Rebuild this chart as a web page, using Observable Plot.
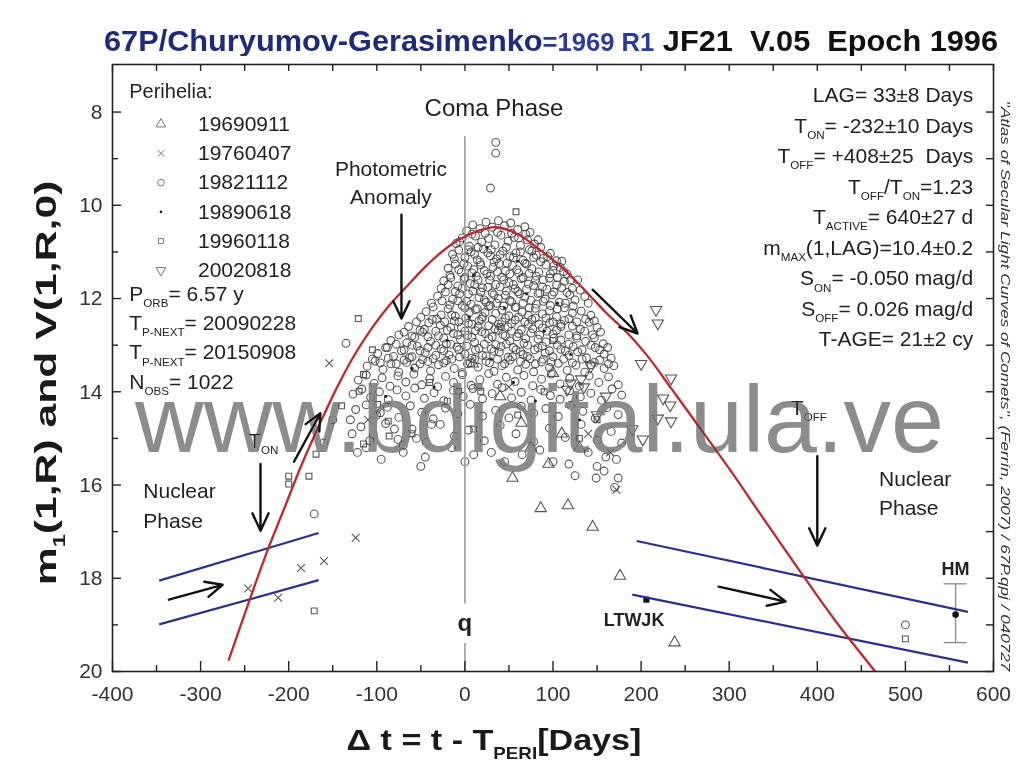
<!DOCTYPE html>
<html>
<head>
<meta charset="utf-8">
<script src="https://cdn.jsdelivr.net/npm/d3@7"></script>
<script src="https://cdn.jsdelivr.net/npm/@observablehq/plot@0.6"></script>
<style>
  html, body { margin: 0; padding: 0; background: #fff; }
  #wrap { position: relative; width: 1018px; height: 783px; overflow: hidden;
          font-family: "Liberation Sans", Arial, Helvetica, sans-serif; }
  #title { position: absolute; left: 104px; top: 26px; white-space: pre; font-weight: bold;
           font-size: 30px; line-height: 30px; transform-origin: 0 0; }
  #chart { position: absolute; left: 0; top: 56px; }
</style>
</head>
<body>
<div id="wrap">
  <div id="title"><span style="color:#1f2a78">67P/Churyumov-Gerasimenko</span><span style="color:#2b3a9e;font-size:25px">=1969 R1</span><span style="color:#111"> JF21  V.05  Epoch 1996</span></div>
  <div id="chart"></div>
</div>
<script>
// ---- axis ticks ----
const xTicks = [-400, -300, -200, -100, 0, 100, 200, 300, 400, 500, 600];
const xMinorTicks = [-350, -250, -150, -50, 50, 150, 250, 350, 450, 550];
const yTicks = [8, 10, 12, 14, 16, 18, 20];
const yMinorTicks = [9, 11, 13, 15, 17, 19];

// ---- perihelion passages (legend order) ----
const perihelia = ["19690911", "19760407", "19821112", "19890618", "19960118", "20020818"];

// ---- observations: [days from perihelion, reduced magnitude] ----
const obs1969 = [[86,16.5],[117,16.44],[145,16.9],[176,17.95],[238,19.38],[54,15.85],[64,14.67],[95,15.55],
  [9,13.4],[130,15.2],[110,14.9],[75,15.2],[40,14.1],[100,13.6]];
const obs1976 = [[-124,17.13],[-186,17.78],[-160,17.63],[-212,18.42],[-246,18.22],[-154,13.39],[172,16.1],
  [165,15.3],[-110,14.6],[140,14.9],[50,13.9]];
const obs1982 = [
  [35,8.65],[35,8.88],[29,9.63],[-135,12.96],[-171,16.62],[500,19.0],[-150,14.6],[-160,15.1],
  [2,10.55],[9,10.42],[17,10.5],[24,10.36],[31,10.47],[38,10.33],[45,10.44],[52,10.38],[60,10.52],[68,10.46],[74,10.58],
  [-10,10.82],[-3,10.7],[5,10.88],[12,10.66],[19,10.79],[27,10.71],[34,10.85],[41,10.64],[49,10.77],[56,10.69],[63,10.86],[71,10.74],[79,10.83],[86,10.9],
  [-6,10.78],[8,10.62],[15,10.9],[23,10.6],[30,10.95],[37,10.58],[47,10.9],[53,10.6],[61,10.7],[69,10.62],[76,10.98],[83,10.74],
  [-14,11.05],[-7,10.96],[0,11.12],[7,11.0],[14,11.17],[21,10.94],[29,11.08],[36,11.15],[43,10.98],[51,11.1],[58,11.02],[66,11.18],[73,10.95],[81,11.07],[89,11.14],[97,11.03],[104,11.19],
  [-12,11.15],[-1,11.25],[4,10.95],[11,11.05],[18,11.28],[26,11.02],[33,11.22],[40,11.06],[48,11.24],[55,11.12],[63,11.0],[70,11.26],[78,11.12],[86,11.21],[94,11.1],[101,11.3],[110,11.2],
  [-19,11.35],[-11,11.26],[-4,11.44],[3,11.3],[10,11.38],[17,11.22],[25,11.47],[32,11.33],[39,11.25],[46,11.41],[54,11.29],[61,11.45],[68,11.24],[76,11.36],[84,11.43],[92,11.28],[100,11.4],[108,11.33],[116,11.48],
  [-17,11.5],[-7,11.38],[0,11.55],[8,11.45],[15,11.6],[22,11.4],[29,11.52],[37,11.43],[44,11.6],[51,11.47],[59,11.38],[66,11.55],[73,11.46],[81,11.52],[89,11.6],[97,11.47],[105,11.55],[112,11.42],[120,11.6],
  [-24,11.62],[-16,11.55],[-8,11.73],[-1,11.58],[6,11.68],[13,11.52],[20,11.77],[28,11.6],[35,11.7],[42,11.54],[50,11.66],[57,11.79],[64,11.57],[72,11.69],[80,11.61],[88,11.75],[96,11.56],[104,11.71],[113,11.63],[122,11.78],[128,11.6],
  [-27,11.78],[-19,11.7],[-11,11.85],[-3,11.78],[4,11.9],[11,11.7],[18,11.86],[26,11.76],[33,11.92],[40,11.75],[47,11.84],[55,11.7],[62,11.9],[70,11.8],[78,11.72],[85,11.88],[93,11.8],[101,11.86],[110,11.77],[119,11.92],[131,11.82],
  [-31,11.95],[-22,11.86],[-14,12.02],[-6,11.9],[2,12.06],[9,11.84],[16,11.98],[24,12.08],[31,11.88],[38,12.0],[46,11.93],[53,12.07],[60,11.85],[68,11.97],[75,12.04],[83,11.89],[91,12.01],[99,11.92],[107,12.08],[116,11.87],[125,12.03],[136,11.96],
  [-38,12.1],[-26,12.05],[-17,12.14],[-8,12.05],[0,12.2],[7,12.12],[14,12.22],[22,12.03],[29,12.15],[36,12.1],[44,12.16],[51,12.04],[58,12.18],[66,12.1],[73,12.2],[81,12.12],[89,12.06],[97,12.15],[105,12.22],[114,12.1],[123,12.16],[140,12.1],
  [-44,12.28],[-36,12.18],[-27,12.35],[-19,12.22],[-11,12.38],[-3,12.15],[5,12.3],[12,12.24],[20,12.39],[27,12.17],[35,12.32],[42,12.25],[50,12.37],[57,12.19],[65,12.29],[72,12.36],[80,12.21],[88,12.33],[96,12.26],[104,12.39],[113,12.2],[122,12.31],[132,12.27],[143,12.36],
  [-50,12.4],[-41,12.52],[-32,12.44],[-23,12.5],[-15,12.35],[-7,12.5],[1,12.42],[8,12.55],[16,12.48],[23,12.3],[31,12.45],[38,12.55],[46,12.42],[53,12.54],[61,12.4],[68,12.5],[76,12.45],[84,12.55],[92,12.42],[100,12.5],[109,12.55],[118,12.43],[127,12.5],[137,12.44],[147,12.48],
  [-64,12.6],[-55,12.5],[-46,12.66],[-37,12.45],[-28,12.57],[-20,12.68],[-12,12.48],[-4,12.62],[4,12.53],[12,12.69],[19,12.44],[27,12.58],[34,12.65],[42,12.5],[49,12.61],[57,12.46],[64,12.67],[72,12.55],[80,12.42],[88,12.63],[96,12.52],[104,12.68],[113,12.47],[122,12.59],[131,12.66],[141,12.51],[150,12.62],
  [-69,12.72],[-60,12.8],[-51,12.68],[-42,12.82],[-33,12.7],[-24,12.85],[-16,12.62],[-8,12.78],[0,12.7],[8,12.83],[15,12.6],[23,12.75],[31,12.82],[38,12.68],[46,12.8],[53,12.7],[61,12.75],[69,12.86],[77,12.65],[85,12.78],[93,12.7],[101,12.85],[109,12.6],[118,12.78],[127,12.85],[136,12.7],[145,12.78],[154,12.72],
  [-84,12.9],[-75,12.78],[-66,12.95],[-57,12.83],[-48,12.72],[-39,12.92],[-30,12.8],[-21,12.97],[-13,12.75],[-5,12.88],[3,12.79],[11,12.94],[19,12.71],[27,12.86],[35,12.99],[43,12.77],[51,12.91],[59,12.82],[67,12.96],[75,12.74],[83,12.87],[92,12.93],[100,12.76],[109,12.89],[118,12.98],[127,12.8],[137,12.92],[147,12.84],[157,12.97],
  [-88,13.05],[-78,12.98],[-69,13.1],[-60,13.0],[-51,13.12],[-42,13.05],[-33,13.0],[-24,13.12],[-16,12.98],[-7,13.1],[2,13.02],[12,13.1],[22,12.98],[30,13.08],[39,13.15],[47,12.98],[55,13.05],[63,13.14],[71,13.0],[79,13.1],[88,13.02],[96,13.12],[105,13.0],[114,13.12],[123,13.03],[133,13.1],[143,13.0],[153,13.1],[162,13.05],
  [-99,13.18],[-90,13.05],[-81,13.24],[-72,13.12],[-63,13.27],[-54,13.02],[-45,13.16],[-36,13.29],[-27,13.08],[-18,13.21],[-9,13.04],[0,13.19],[8,13.28],[16,13.07],[24,13.23],[33,13.13],[41,13.03],[49,13.26],[58,13.1],[66,13.2],[74,13.29],[83,13.06],[91,13.17],[100,13.25],[109,13.09],[118,13.22],[128,13.14],[138,13.27],[148,13.05],[158,13.19],[166,13.28],
  [-105,13.3],[-96,13.38],[-87,13.28],[-78,13.4],[-69,13.32],[-60,13.25],[-51,13.4],[-42,13.35],[-33,13.22],[-24,13.38],[-15,13.3],[-6,13.25],[3,13.4],[11,13.3],[20,13.22],[28,13.38],[37,13.3],[45,13.4],[54,13.25],[63,13.35],[71,13.24],[80,13.4],[89,13.3],[98,13.36],[112,13.3],[122,13.38],[133,13.3],[143,13.42],[153,13.32],[163,13.4],
  [-111,13.45],[-102,13.34],[-93,13.52],[-84,13.4],[-75,13.58],[-66,13.37],[-57,13.49],[-48,13.31],[-39,13.55],[-30,13.42],[-21,13.33],[-12,13.5],[-3,13.59],[6,13.38],[15,13.47],[24,13.35],[33,13.56],[42,13.44],[51,13.32],[60,13.53],[69,13.41],[78,13.57],[87,13.36],[96,13.48],[106,13.39],[116,13.54],[126,13.43],[136,13.58],[147,13.37],[158,13.5],[169,13.44],
  [-121,13.75],[-112,13.64],[-103,13.82],[-94,13.7],[-85,13.88],[-76,13.66],[-67,13.79],[-58,13.62],[-49,13.85],[-40,13.72],[-31,13.89],[-22,13.67],[-13,13.8],[-3,13.63],[7,13.86],[17,13.74],[27,13.61],[37,13.84],[47,13.69],[57,13.78],[67,13.65],[77,13.87],[87,13.73],[98,13.62],[108,13.83],[119,13.71],[130,13.88],[141,13.66],[152,13.8],[163,13.68],[174,13.85],
  [-127,14.05],[-117,13.94],[-107,14.12],[-97,14.0],[-87,14.17],[-77,13.96],[-67,14.09],[-57,13.92],[-46,14.14],[-35,14.02],[-24,14.19],[-13,13.97],[-2,14.1],[9,13.93],[20,14.15],[31,14.04],[42,13.91],[53,14.13],[64,14.01],[75,14.18],[86,13.95],[97,14.08],[108,14.16],[119,13.98],[131,14.11],[143,14.03],[155,14.18],[167,13.94],[178,14.07],
  [-124,14.38],[-112,14.28],[-100,14.5],[-88,14.33],[-75,14.55],[-62,14.3],[-49,14.44],[-36,14.58],[-22,14.35],[-8,14.47],[6,14.27],[20,14.52],[35,14.4],[50,14.56],[64,14.31],[78,14.46],[92,14.36],[106,14.53],[120,14.29],[134,14.42],[148,14.57],[161,14.34],[174,14.49],
  [-118,14.75],[-104,14.92],[-90,14.68],[-76,15.02],[-60,14.8],[-44,15.08],[-28,14.7],[-12,14.95],[4,14.82],[22,15.05],[40,14.72],[58,14.9],[78,15.07],[96,14.78],[114,14.98],[132,14.7],[150,15.04],[166,14.85],[178,15.1],
  [-130,14.6],[-128,14.9],[-122,15.3],[-108,15.05],[-96,14.45],[-80,14.8],[-70,15.15],[-55,15.0],[-38,14.7],[-45,15.4],[-15,15.2],[0,15.5],[30,15.3],[65,15.35],[100,15.5],[125,15.8],[160,15.4],[170,16.05],[150,15.6],
  [-112,15.2],[-95,15.45],[-70,15.3],[-50,15.6],[10,15.35],[45,15.5],[85,15.25],[118,15.55],[140,15.3],[158,15.7],[172,15.45],[174,15.85],[149,15.85]
];
const obs1989 = [[10,11.5],[45,12.2],[70,11.9],[-20,12.9],[30,13.3],[90,12.7],[55,13.8],[-60,13.5],[120,13.2],
  [5,12.4],[80,14.2],[-90,14.1],[130,14.6],[25,10.9],[60,11.2],[-35,13.9],[105,12.1]];
const obs1996 = [[-115,13.63],[-120,13.99],[-99,14.27],[-87,14.63],[-115,15.12],[-86,14.95],[-169,15.34],[-177,15.81],
  [-200,15.81],[-200,15.98],[-121,12.43],[58,10.14],[-171,18.7],[500,19.3],[-40,13.8],[-20,14.2],[10,14.8],[60,14.5],
  [90,14.0],[130,15.0],[150,14.6],[-60,14.9],[-7,13.99],[18,13.99],[-140,14.3],[-105,13.1],[40,12.6],[100,12.9]];
const obs2002 = [[217,12.24],[219,12.53],[234,13.71],[225,14.14],[219,14.57],[234,14.63],[202,15.02],[143,13.45],
  [132,13.73],[120,13.82],[160,14.1],[200,13.4],[233,14.29],[116,13.95],[135,13.9],[190,14.8],[150,14.5]];

// LTWJK and HM observations
const ltwjk = [[206, 18.46]];
const hm = [{dt: 557, mag: 18.78, lo: 18.12, hi: 19.38}];

// secular light-curve envelope (fit)
const envelope = [[-268,19.75],[-245,18.5],[-225,17.45],[-205,16.5],[-185,15.55],[-165,14.7],[-145,13.9],
  [-125,13.2],[-105,12.62],[-85,12.13],[-65,11.72],[-45,11.32],[-25,10.98],[-5,10.72],[15,10.55],[35,10.47],
  [60,10.62],[85,10.95],[110,11.33],[135,11.8],[160,12.3],[185,12.75],[210,13.3],[235,13.95],[260,14.6],
  [300,15.65],[340,16.75],[380,17.84],[420,18.9],[470,20.1]];

// nuclear-magnitude bands before turn-on and after turn-off
const nuclearLines = [
  {x1: -347, y1: 18.05, x2: -166, y2: 17.03},
  {x1: -347, y1: 18.99, x2: -166, y2: 18.04},
  {x1: 195, y1: 17.2, x2: 571, y2: 18.72},
  {x1: 190, y1: 18.35, x2: 571, y2: 19.81}
];

// annotation arrows
const arrows = [
  {x1: -72, y1: 10.2, x2: -72, y2: 12.43},
  {x1: -232, y1: 15.55, x2: -232, y2: 16.98},
  {x1: -194, y1: 15.5, x2: -164, y2: 14.46},
  {x1: -336, y1: 18.46, x2: -275, y2: 18.14},
  {x1: 145, y1: 11.81, x2: 196, y2: 12.75},
  {x1: 400, y1: 15.38, x2: 400, y2: 17.3},
  {x1: 288, y1: 18.18, x2: 364, y2: 18.5}
];

// perihelion marker segments (gap for the "q" label)
const qLine = [{y1: 8.53, y2: 18.55}, {y1: 19.4, y2: 20}];

// labels inside the frame
const phaseNotes = [
  {x: 33, y: 7.93, text: "Coma Phase", size: 24},
  {x: -84, y: 9.22, text: "Photometric", size: 21},
  {x: -84, y: 9.82, text: "Anomaly", size: 21}
];
const sideNotes = [
  {x: -365, y: 16.13, text: "Nuclear"},
  {x: -365, y: 16.77, text: "Phase"},
  {x: 470, y: 15.87, text: "Nuclear"},
  {x: 470, y: 16.49, text: "Phase"},
  {x: -246, y: 15.06, text: "T_{ON}"},
  {x: 370, y: 14.35, text: "T_{OFF}"}
];
const boldNotes = [
  {x: 0, y: 18.97, text: "q", size: 24},
  {x: 192, y: 18.9, text: "LTWJK", size: 18},
  {x: 557, y: 17.8, text: "HM", size: 18}
];
const leftStats = ["P_{ORB}= 6.57 y", "T_{P-NEXT}= 20090228", "T_{P-NEXT}= 20150908", "N_{OBS}= 1022"];
const rightStats = ["LAG= 33±8 Days", "T_{ON}= -232±10 Days", "T_{OFF}= +408±25  Days", "T_{OFF}/T_{ON}=1.23",
  "T_{ACTIVE}= 640±27 d", "m_{MAX}(1,LAG)=10.4±0.2", "S_{ON}= -0.050 mag/d", "S_{OFF}= 0.026 mag/d", "T-AGE= 21±2 cy"];

// ---- layout ----
const W = 1018, H = 727;
const mL = 112, mR = 25, mT = 8, mB = 112;
const frameW = W - mL - mR, frameH = H - mT - mB;
const legendX = -345, legendTextX = -303, blockLeftX = -381, blockRightX = 577;
const legendY = i => 8.26 + i * 0.627;
const leftStatY = i => 11.9 + i * 0.63;
const rightStatY = i => 7.64 + i * 0.655;

const pointStyle = {stroke: "#444", strokeWidth: 1.1, fill: "none", strokeOpacity: 0.9};
const legendStyle = {stroke: "#777", strokeWidth: 1, fill: "none"};
const series = [
  {data: obs1969, opts: {symbol: "triangle", r: 4.2}},
  {data: obs1976, opts: {symbol: "times", r: 3.6}},
  {data: obs1982, opts: {symbol: "circle", r: 3.9}},
  {data: obs1989, opts: {symbol: "circle", r: 1.6, fill: "#222", stroke: "none"}},
  {data: obs1996, opts: {symbol: "square", r: 3.3}},
  {data: obs2002, opts: {symbol: "triangle", r: 4.2, rotate: 180}}
];

const marks = [];
// observations
series.forEach(s => marks.push(Plot.dot(s.data, {x: d => d[0], y: d => d[1], ...pointStyle, ...s.opts})));
marks.push(Plot.dot(ltwjk, {x: d => d[0], y: d => d[1], symbol: "square", r: 3.4, fill: "#111"}));
// HM point with error bar
marks.push(Plot.ruleX(hm, {x: "dt", y1: "lo", y2: "hi", stroke: "#8a8a8a", strokeWidth: 1.3}));
marks.push(Plot.ruleY(hm.flatMap(d => [d.lo, d.hi]), {y: d => d, x1: () => hm[0].dt - 13, x2: () => hm[0].dt + 13, stroke: "#8a8a8a", strokeWidth: 1.3}));
marks.push(Plot.dot(hm, {x: "dt", y: "mag", r: 3.3, fill: "#111"}));
// perihelion line
marks.push(Plot.ruleX(qLine, {x: () => 0, y1: "y1", y2: "y2", stroke: "#9c9c9c", strokeWidth: 1.6}));
// nuclear lines and envelope
marks.push(Plot.link(nuclearLines, {x1: "x1", y1: "y1", x2: "x2", y2: "y2", stroke: "#2d2f8e", strokeWidth: 2.2}));
marks.push(Plot.line(envelope, {x: d => d[0], y: d => d[1], stroke: "#c0282f", strokeWidth: 2.3, curve: "catmull-rom", clip: true}));
// arrows
marks.push(Plot.arrow(arrows, {x1: "x1", y1: "y1", x2: "x2", y2: "y2", stroke: "#111", strokeWidth: 2.4, headLength: 12, headAngle: 50}));
// frame ticks (inward)
marks.push(Plot.tickX(xTicks, {x: d => d, insetTop: frameH - 10, stroke: "#222", strokeWidth: 1.4}));
marks.push(Plot.tickX(xMinorTicks, {x: d => d, insetTop: frameH - 6, stroke: "#222", strokeWidth: 1.4}));
marks.push(Plot.tickX(xTicks.concat(xMinorTicks), {x: d => d, insetBottom: frameH - 7, stroke: "#222", strokeWidth: 1.4}));
marks.push(Plot.tickY(yTicks, {y: d => d, insetRight: frameW - 9, stroke: "#222", strokeWidth: 1.4}));
marks.push(Plot.tickY(yMinorTicks, {y: d => d, insetRight: frameW - 6, stroke: "#222", strokeWidth: 1.4}));
marks.push(Plot.tickY(yTicks.concat(yMinorTicks), {y: d => d, insetLeft: frameW - 7, stroke: "#222", strokeWidth: 1.4}));
marks.push(Plot.frame({stroke: "#222", strokeWidth: 1.6}));
// tick labels
marks.push(Plot.axisX({ticks: xTicks, tickSize: 0, tickPadding: 15, tickFormat: d => String(d), fontSize: 21, fill: "#333", label: null}));
marks.push(Plot.axisY({ticks: yTicks, tickSize: 0, tickPadding: 10, tickFormat: d => String(d), fontSize: 21, fill: "#333", label: null}));
// legend
marks.push(Plot.text(["Perihelia:"], {x: () => blockLeftX, y: () => 7.57, text: d => d, textAnchor: "start", fontSize: 20, fill: "#222"}));
series.forEach((s, i) => marks.push(Plot.dot([i], {x: () => legendX, y: () => legendY(i), ...legendStyle, ...s.opts, r: (s.opts.r || 3) * 0.85})));
marks.push(Plot.text(perihelia, {x: () => legendTextX, y: (d, i) => legendY(i), text: d => d, textAnchor: "start", fontSize: 21, fill: "#222"}));
marks.push(Plot.text(leftStats, {x: () => blockLeftX, y: (d, i) => leftStatY(i), text: d => d, textAnchor: "start", fontSize: 21, fill: "#222"}));
marks.push(Plot.text(rightStats, {x: () => blockRightX, y: (d, i) => rightStatY(i), text: d => d, textAnchor: "end", fontSize: 21, fill: "#222"}));
// annotations
marks.push(Plot.text(phaseNotes, {x: "x", y: "y", text: "text", fontSize: "size", textAnchor: "middle", fill: "#222"}));
marks.push(Plot.text(sideNotes, {x: "x", y: "y", text: "text", fontSize: 21, textAnchor: "start", fill: "#222"}));
marks.push(Plot.text(boldNotes, {x: "x", y: "y", text: "text", fontSize: "size", fontWeight: "bold", textAnchor: "middle", fill: "#222"}));

const chart = Plot.plot({
  width: W, height: H,
  marginLeft: mL, marginRight: mR, marginTop: mT, marginBottom: mB,
  x: {domain: [-400, 600]},
  y: {domain: [6.98, 20], reverse: true},
  style: {fontFamily: '"Liberation Sans", Arial, Helvetica, sans-serif', background: "white"},
  marks
});
document.getElementById("chart").appendChild(chart);

// subscripts written as _{...}
const SVGNS = "http://www.w3.org/2000/svg";
function applySubscripts(root) {
  root.querySelectorAll("text").forEach(t => {
    const s = t.textContent;
    if (!s.includes("_{")) return;
    const fs = parseFloat(getComputedStyle(t).fontSize);
    const shift = fs * 0.3;
    while (t.firstChild) t.removeChild(t.firstChild);
    let lowered = false;
    s.split(/(_\{[^}]*\})/).forEach(part => {
      if (!part) return;
      const ts = document.createElementNS(SVGNS, "tspan");
      if (part.startsWith("_{")) {
        ts.textContent = part.slice(2, -1);
        ts.setAttribute("font-size", (fs * 0.55).toFixed(1));
        if (!lowered) ts.setAttribute("dy", shift.toFixed(1));
        lowered = true;
      } else {
        ts.textContent = part;
        if (lowered) ts.setAttribute("dy", (-shift).toFixed(1));
        lowered = false;
      }
      t.appendChild(ts);
    });
  });
}

// free-standing labels around the frame, fitted to a given width
function addLabel(svg, {x, y, rotate = 0, text, size, weight = "normal", style = "normal", fill = "#222", width, anchor = "middle"}) {
  const g = svg.append("g").attr("transform", `translate(${x},${y}) rotate(${rotate})`);
  const inner = g.append("g");
  const t = inner.append("text").attr("text-anchor", anchor).attr("font-size", size)
    .attr("font-weight", weight).attr("font-style", style).attr("fill", fill)
    .attr("font-family", '"Liberation Sans", Arial, Helvetica, sans-serif').text(text);
  applySubscripts(g.node());
  if (width) {
    const w = t.node().getBBox().width;
    inner.attr("transform", `scale(${width / w},1)`);
  }
  return g;
}

applySubscripts(chart);
const svg = d3.select(chart);
addLabel(svg, {x: 494, y: 694, text: "Δ t = t - T_{PERI}[Days]", size: 30, weight: "bold", fill: "#1a1a1a", width: 295});
addLabel(svg, {x: 56, y: 327, rotate: -90, text: "m_{1}(1,R) and V(1,R,0)", size: 30, weight: "bold", fill: "#1a1a1a", width: 405});
addLabel(svg, {x: 1001, y: 330, rotate: 90, text: "\"Atlas of Secular Light Curves of Comets\", (Ferrín, 2007) / 67P.qpj / 040727", size: 12.5, style: "italic", fill: "#333", width: 572});

// repository watermark, darkening what lies beneath it
addLabel(svg, {x: 135, y: 396, text: "www.bdigital.ula.ve", size: 94, fill: "#8c8c8c", width: 810, anchor: "start"})
  .style("mix-blend-mode", "darken");

// title width
const title = document.getElementById("title");
const tw = title.getBoundingClientRect().width;
title.style.transform = `scaleX(${894 / tw})`;
</script>
</body>
</html>
